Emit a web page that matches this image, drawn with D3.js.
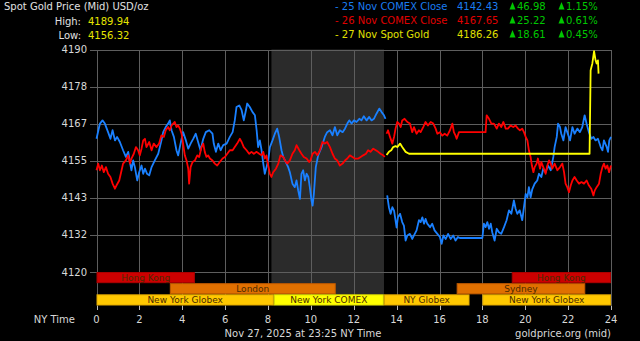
<!DOCTYPE html>
<html><head><meta charset="utf-8">
<script src="https://cdn.jsdelivr.net/npm/d3@7/dist/d3.min.js"></script>
<style>
html,body{margin:0;padding:0;background:#000;}
svg{display:block;}
text{font-family:"DejaVu Sans",sans-serif;}
</style></head><body>
<svg id="c" width="640" height="341"></svg>
<script>
// ---------- DATA ----------
const xTicks = [0,2,4,6,8,10,12,14,16,18,20,22,24];
const yTicks = [4120, 4131.67, 4143.33, 4155, 4166.67, 4178.33, 4190];
const yTickLabels = ["4120","4132","4143","4155","4167","4178","4190"];

const blueSeries = [[0,4161.9],[0.16,4166.7],[0.28,4167.7],[0.39,4166.7],[0.54,4164],[0.65,4161.9],[0.75,4164.6],[0.86,4161.4],[0.96,4162.5],[1.09,4160.9],[1.24,4158.3],[1.37,4156.2],[1.48,4157.8],[1.56,4154.6],[1.63,4152],[1.71,4155.1],[1.79,4153],[1.90,4148.8],[1.99,4151.4],[2.10,4153.5],[2.18,4150.9],[2.26,4152.5],[2.36,4150.9],[2.46,4150.4],[2.57,4153],[2.72,4155.1],[2.88,4157.2],[3.03,4161.4],[3.11,4164],[3.23,4165.6],[3.34,4166.7],[3.42,4167.7],[3.50,4164.6],[3.61,4162.5],[3.73,4158.3],[3.81,4156.7],[3.92,4160.4],[4.04,4164],[4.17,4161.4],[4.28,4158.8],[4.39,4160.4],[4.51,4161.9],[4.63,4163.5],[4.74,4160.9],[4.85,4158.3],[4.98,4161.9],[5.10,4164],[5.26,4164.6],[5.41,4163.5],[5.47,4160.4],[5.57,4157.8],[5.68,4160.4],[5.79,4158.3],[5.91,4159.9],[6.07,4160.4],[6.22,4162.5],[6.35,4164],[6.45,4167.7],[6.53,4171.9],[6.66,4172.4],[6.77,4170.9],[6.87,4167.7],[6.97,4170.9],[7.03,4173],[7.15,4171.9],[7.28,4170.3],[7.39,4169.3],[7.47,4164.6],[7.54,4159.3],[7.62,4161.4],[7.70,4158.3],[7.78,4154.1],[7.85,4150.9],[7.93,4153],[8.01,4155.1],[8.09,4159.3],[8.21,4161.4],[8.32,4163.5],[8.43,4165.1],[8.52,4162.5],[8.63,4158.3],[8.71,4156.2],[8.83,4154.6],[8.94,4153],[9.02,4151.4],[9.14,4147.8],[9.25,4146.7],[9.33,4148.8],[9.41,4145.6],[9.49,4143],[9.56,4150.9],[9.64,4152],[9.72,4148.8],[9.80,4150.9],[9.88,4149.9],[9.95,4146.7],[10.03,4142.5],[10.08,4140.9],[10.14,4144.6],[10.23,4153],[10.34,4156.7],[10.50,4159.3],[10.65,4162.5],[10.76,4164],[10.89,4164.6],[11.01,4163],[11.12,4165.6],[11.23,4163],[11.35,4164.6],[11.48,4164],[11.59,4165.1],[11.70,4166.7],[11.79,4167.7],[11.90,4166.7],[12.01,4167.7],[12.13,4167.2],[12.26,4168.2],[12.36,4167.7],[12.47,4169],[12.60,4167.7],[12.72,4168.8],[12.83,4167.7],[12.94,4168.2],[13.06,4169.8],[13.19,4171.4],[13.30,4170.3],[13.41,4169.3],[13.48,4168.2],
null,
[13.56,4144.1],[13.64,4140.4],[13.72,4138.3],[13.80,4140.4],[13.88,4139.3],[14.00,4134],[14.06,4137.2],[14.16,4138.3],[14.26,4135.7],[14.34,4134.6],[14.42,4129.9],[14.50,4131.5],[14.62,4132],[14.73,4130.4],[14.81,4131.5],[14.93,4133.1],[15.04,4136.3],[15.12,4135.7],[15.20,4137.2],[15.28,4135.2],[15.35,4136.7],[15.43,4135.2],[15.56,4134.1],[15.66,4135.2],[15.77,4133.1],[15.90,4132],[16.02,4131],[16.10,4128.9],[16.18,4131.5],[16.29,4130.4],[16.40,4132],[16.52,4130.4],[16.64,4131.5],[16.75,4129.9],[16.86,4131],[16.95,4130.7],[18.00,4130.7],[18.07,4135.2],[18.15,4134.1],[18.23,4135.7],[18.31,4133.6],[18.39,4135.2],[18.46,4132.5],[18.57,4129.9],[18.67,4133.6],[18.77,4132.5],[18.88,4132],[19.01,4134.1],[19.13,4136.3],[19.24,4139.4],[19.35,4138.3],[19.47,4142.5],[19.55,4139.9],[19.63,4138.3],[19.74,4139.4],[19.86,4136.3],[19.94,4140.4],[20.02,4144.6],[20.10,4143.5],[20.17,4146.7],[20.25,4143.5],[20.33,4146.1],[20.44,4147.8],[20.56,4148.8],[20.64,4150.9],[20.75,4149.9],[20.84,4152.5],[20.95,4151.4],[21.06,4153.5],[21.19,4152],[21.31,4156.2],[21.37,4159.3],[21.47,4162.5],[21.53,4166.7],[21.62,4165.6],[21.68,4163.5],[21.78,4161.4],[21.88,4165.6],[21.96,4164],[22.09,4161.4],[22.20,4165.6],[22.30,4163.5],[22.43,4165.1],[22.55,4164],[22.66,4165.6],[22.77,4169.3],[22.86,4166.7],[22.97,4164],[23.08,4161.9],[23.18,4162.5],[23.28,4161.4],[23.39,4161.9],[23.52,4159.3],[23.60,4158.3],[23.67,4161.4],[23.80,4159.3],[23.86,4157.8],[23.92,4161.4],[24,4162.5]];

const redSeries = [[0,4152],[0.08,4154.1],[0.16,4152],[0.25,4153.5],[0.34,4151.4],[0.44,4153],[0.54,4150.9],[0.65,4149.9],[0.75,4147.8],[0.86,4146.2],[0.93,4147.2],[1.06,4148.8],[1.17,4152],[1.24,4154.1],[1.37,4155.1],[1.48,4156.7],[1.56,4154.1],[1.63,4155.7],[1.74,4157.2],[1.84,4159.3],[1.94,4158.3],[2.02,4156.7],[2.10,4158.8],[2.18,4161.4],[2.26,4161.9],[2.33,4159.3],[2.46,4160.9],[2.57,4158.3],[2.67,4160.4],[2.80,4159.3],[2.92,4160.4],[3.03,4163],[3.14,4162.5],[3.23,4164.6],[3.34,4165.6],[3.42,4164.6],[3.50,4166.1],[3.58,4166.7],[3.65,4167.2],[3.73,4165.6],[3.81,4166.1],[3.89,4165.1],[3.97,4163.5],[4.04,4160.4],[4.12,4156.7],[4.20,4155.1],[4.28,4152.5],[4.32,4147.8],[4.39,4153],[4.48,4154.6],[4.59,4155.1],[4.70,4156.7],[4.79,4156.2],[4.90,4159.3],[4.98,4160.4],[5.05,4157.8],[5.13,4156.2],[5.21,4156.7],[5.29,4155.7],[5.41,4155.1],[5.52,4154.1],[5.63,4153.5],[5.75,4154.6],[5.88,4155.7],[5.99,4156.2],[6.10,4157.2],[6.22,4158.3],[6.35,4158.3],[6.45,4159.3],[6.56,4160.4],[6.69,4161.9],[6.77,4160.9],[6.87,4159.3],[7.00,4158.3],[7.12,4157.2],[7.23,4157.8],[7.34,4157.2],[7.47,4157.8],[7.59,4157.2],[7.70,4156.7],[7.78,4157.8],[7.85,4155.7],[7.93,4156.7],[8.01,4153.5],[8.09,4150.9],[8.16,4149.9],[8.24,4151.4],[8.37,4152.5],[8.48,4154.1],[8.58,4156.7],[8.71,4156.2],[8.79,4155.1],[8.90,4154.1],[9.02,4155.1],[9.14,4157.2],[9.25,4158.3],[9.33,4159.9],[9.46,4158.3],[9.56,4157.2],[9.67,4156.2],[9.80,4155.7],[9.92,4154.6],[9.98,4155.1],[10.08,4157.2],[10.19,4157.8],[10.30,4156.7],[10.42,4158.3],[10.54,4160.9],[10.65,4160.4],[10.76,4160.9],[10.89,4159.3],[11.01,4157.2],[11.12,4155.7],[11.23,4155.1],[11.35,4153.5],[11.48,4154.1],[11.59,4155.1],[11.70,4155.7],[11.82,4156.7],[11.94,4156.2],[12.05,4155.7],[12.21,4155.7],[12.32,4156.2],[12.44,4156.7],[12.57,4157.2],[12.67,4158.3],[12.78,4157.8],[12.91,4158.8],[13.03,4158.3],[13.14,4157.8],[13.25,4157.2],[13.37,4156.7],[13.45,4156.2],
null,
[13.53,4163.5],[13.60,4164.6],[13.69,4162.5],[13.80,4160.4],[13.88,4162.5],[13.95,4165.1],[14.03,4167.2],[14.11,4166.7],[14.19,4165.6],[14.26,4167.7],[14.37,4168.2],[14.50,4167.2],[14.62,4166.7],[14.73,4164],[14.81,4165.6],[14.93,4163.5],[15.04,4164.6],[15.12,4164],[15.24,4165.6],[15.35,4167.2],[15.46,4166.1],[15.59,4167.2],[15.71,4166.7],[15.82,4165.1],[15.90,4163.5],[16.02,4164],[16.13,4162.9],[16.24,4163.5],[16.36,4162.9],[16.49,4164.6],[16.60,4166.7],[16.67,4164],[16.75,4162.9],[16.80,4161.9],[16.91,4164],[18.15,4164],[18.20,4169.3],[18.31,4168.2],[18.42,4166.7],[18.54,4166.7],[18.67,4165.1],[18.77,4166.7],[18.88,4165.6],[18.98,4167.2],[19.09,4165.1],[19.19,4165.1],[19.32,4166.1],[19.44,4165.6],[19.55,4166.1],[19.66,4165.1],[19.75,4164.6],[19.86,4165.1],[19.94,4164],[20.02,4162.5],[20.10,4161.4],[20.17,4158.3],[20.25,4156.2],[20.31,4153.5],[20.38,4151.4],[20.44,4153],[20.53,4154.1],[20.59,4155.7],[20.69,4152.5],[20.75,4154.6],[20.84,4153],[20.95,4150.9],[21.03,4153.5],[21.11,4155.1],[21.19,4154.1],[21.26,4152.5],[21.37,4154.1],[21.50,4152],[21.62,4153],[21.73,4154.1],[21.81,4151.4],[21.88,4147.8],[21.96,4146.7],[22.04,4145.1],[22.12,4147.2],[22.20,4148.8],[22.30,4149.9],[22.40,4148.8],[22.51,4147.8],[22.62,4148.3],[22.74,4147.8],[22.86,4148.8],[22.97,4147.2],[23.08,4146.2],[23.18,4144.1],[23.24,4145.6],[23.33,4146.7],[23.44,4147.8],[23.52,4150.9],[23.60,4153],[23.67,4154.1],[23.75,4152.5],[23.83,4153.5],[23.91,4151.4],[24,4153.5]];

const yellowSeries = [[13.53,4156.8],[13.64,4157.8],[13.75,4158.3],[13.84,4159.3],[13.95,4159.6],[14.03,4159.3],[14.16,4160.4],[14.26,4159.3],[14.42,4157.8],[14.58,4157.2],[23.00,4157.2],[23.05,4183.5],[23.13,4185.6],[23.21,4189.5],[23.28,4186.6],[23.33,4185.6],[23.39,4186.6],[23.42,4182.4]];

const comexShade = [8.16, 13.41];

const sessionNames = ["Hong Kong","London","New York Globex","New York COMEX","NY Globex","Sydney","Hong Kong","New York Globex"];
const sessionStart = [0, 3.42, 0, 8.27, 13.4, 16.8, 19.37, 18.0];
const sessionEnd   = [4.59, 11.16, 8.27, 13.4, 17.4, 22.8, 24, 24];
const sessionRow   = [0, 1, 2, 2, 2, 1, 0, 2];
const sessionType  = ["hk","london","globex","comex","globex","london","hk","globex"];

const legendLabels = ["- 25 Nov COMEX Close","- 26 Nov COMEX Close","- 27 Nov Spot Gold"];
const legendPrices = ["4142.43","4167.65","4186.26"];
const legendChange = ["46.98","25.22","18.61"];
const legendPct    = ["1.15%","0.61%","0.45%"];
const highValue = "4189.94", lowValue = "4156.32";

// ---------- STYLE ----------
const seriesColor = ["#1a80ff","#ff0000","#ffff00"];
const legendColor = ["#1a7cf0","#e00000","#e0e000"];
const sessFill = {hk:"#cc0000", london:"#e07000", globex:"#ffc800", comex:"#ffff00"};
const sessStroke = {hk:"#aa0000", london:"#c05a00", globex:"#e0a800", comex:"#e0e000"};

// ---------- CHART ----------
const svg = d3.select("#c");
svg.append("rect").attr("width",640).attr("height",341).attr("fill","#000");

const x = d3.scaleLinear().domain([0,24]).range([96.5, 611]);
const y = d3.scaleLinear().domain([4120,4190]).range([272, 49.5]);
const rowBand = d3.scaleBand().domain([0,1,2]).range([272, 305.5]).padding(0);
const plotBottom = 305.5;

// shaded COMEX region
svg.append("rect")
  .attr("x", x(comexShade[0])).attr("y", y(4190))
  .attr("width", x(comexShade[1]) - x(comexShade[0]))
  .attr("height", plotBottom - y(4190))
  .attr("fill", "#2b2b2b");

// grid
const grid = svg.append("g").attr("stroke","#5e5e5e").attr("stroke-width",1.2).attr("shape-rendering","crispEdges");
grid.selectAll("line.v").data(xTicks).join("line")
  .attr("x1", d=>Math.round(x(d))+0.5).attr("x2", d=>Math.round(x(d))+0.5)
  .attr("y1", y(4190)).attr("y2", plotBottom);
grid.selectAll("line.h").data(yTicks).join("line")
  .attr("x1", 90).attr("x2", x(24))
  .attr("y1", d=>Math.round(y(d))+0.5).attr("y2", d=>Math.round(y(d))+0.5);

// y labels
svg.append("g").selectAll("text").data(yTicks).join("text")
  .attr("x", 87).attr("y", d=>y(d)).attr("dy","0.35em")
  .attr("text-anchor","end").attr("font-size",10).attr("fill","#d8d8d8")
  .text((d,i)=>yTickLabels[i]);

// session bars
const sess = sessionNames.map((n,i)=>({name:n,s:sessionStart[i],e:sessionEnd[i],row:sessionRow[i],type:sessionType[i]}));
const sg = svg.append("g");
sg.selectAll("rect").data(sess).join("rect")
  .attr("x", d=>x(d.s)+0.5).attr("y", d=>rowBand(d.row)+0.5)
  .attr("width", d=>x(d.e)-x(d.s)-1).attr("height", rowBand.bandwidth()-1)
  .attr("fill", d=>sessFill[d.type]).attr("stroke", d=>sessStroke[d.type]).attr("stroke-width",1);
sg.selectAll("text").data(sess).join("text")
  .attr("x", d=>(x(d.s)+x(d.e))/2).attr("y", d=>rowBand(d.row)+rowBand.bandwidth()/2)
  .attr("dy","0.35em").attr("text-anchor","middle").attr("font-size",9)
  .attr("fill","#4a2a00").text(d=>d.name);

// x ticks and labels
const xa = svg.append("g");
xa.selectAll("line").data(xTicks).join("line")
  .attr("x1", d=>Math.round(x(d))+0.5).attr("x2", d=>Math.round(x(d))+0.5)
  .attr("y1", 306).attr("y2", 310).attr("stroke","#bbb");
xa.selectAll("text").data(xTicks).join("text")
  .attr("x", d=>x(d)).attr("y", 322.5).attr("text-anchor","middle")
  .attr("font-size",10).attr("fill","#d8d8d8").text(d=>d);
svg.append("text").attr("x",75).attr("y",322.5).attr("text-anchor","end")
  .attr("font-size",10).attr("fill","#d8d8d8").text("NY Time");
svg.append("text").attr("x",303).attr("y",336.5).attr("text-anchor","middle")
  .attr("font-size",10).attr("fill","#d8d8d8").text("Nov 27, 2025 at 23:25 NY Time");
svg.append("text").attr("x",611).attr("y",336.5).attr("text-anchor","end")
  .attr("font-size",10).attr("fill","#d8d8d8").text("goldprice.org (mid)");

// lines
const line = d3.line().defined(d=>d!==null).x(d=>x(d[0])).y(d=>y(d[1]));
[blueSeries, redSeries, yellowSeries].forEach((s,i)=>{
  svg.append("path").datum(s).attr("d", line).attr("fill","none")
    .attr("stroke", seriesColor[i]).attr("stroke-width",1.8).attr("stroke-linejoin","round");
});
// redraw yellow on top already last

// header
svg.append("text").attr("x",4).attr("y",10).attr("font-size",10).attr("fill","#e0e0e0")
  .text("Spot Gold Price (Mid) USD/oz");
svg.append("text").attr("x",81).attr("y",24.5).attr("text-anchor","end").attr("font-size",10).attr("fill","#e0e0e0").text("High:");
svg.append("text").attr("x",88).attr("y",24.5).attr("font-size",10).attr("fill","#e6e600").text(highValue);
svg.append("text").attr("x",81).attr("y",38.5).attr("text-anchor","end").attr("font-size",10).attr("fill","#e0e0e0").text("Low:");
svg.append("text").attr("x",88).attr("y",38.5).attr("font-size",10).attr("fill","#e6e600").text(lowValue);

// legend
const lg = svg.append("g");
legendLabels.forEach((lab,i)=>{
  const by = 9.5 + i*14;
  lg.append("text").attr("x",335).attr("y",by).attr("font-size",10).attr("fill",legendColor[i]).text(lab);
  lg.append("text").attr("x",457).attr("y",by).attr("font-size",10).attr("fill",legendColor[i]).text(legendPrices[i]);
  [[509.5, legendChange[i], 517],[558.5, legendPct[i], 566]].forEach(([tx, t, vx])=>{
    lg.append("path").attr("d", `M${tx},${by} L${tx+6},${by} L${tx+3},${by-7.5} Z`).attr("fill","#00c800");
    lg.append("text").attr("x",vx).attr("y",by).attr("font-size",10).attr("fill","#00c800").text(t);
  });
});
</script>
</body></html>
